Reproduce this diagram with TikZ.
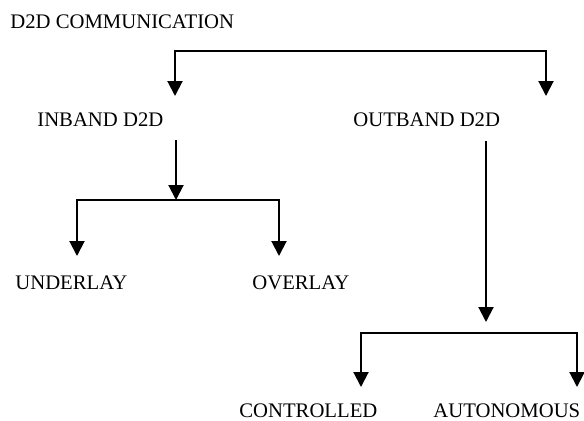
\documentclass[tikz,border=0pt]{standalone}
\usepackage{fontspec}
\setmainfont{Liberation Serif}
\usetikzlibrary{arrows.meta}
\tikzset{
  term/.style={anchor=base west,inner sep=0pt,font=\fontsize{10.35}{12}\selectfont},
  flow/.style={-{Triangle[length=7.5pt,width=7.5pt]},line width=1pt},
  fork/.style={{Triangle[length=7.5pt,width=7.5pt]}-{Triangle[length=7.5pt,width=7.5pt]},line width=1pt}
}
\begin{document}
\begin{tikzpicture}[x=0.5pt,y=-0.5pt]
  \useasboundingbox (0,0) rectangle (584,420);
  \node[term] (root) at (10,28) {D2D COMMUNICATION};
  \node[term] (inband) at (37,126) {INBAND D2D};
  \node[term] (outband) at (353,126) {OUTBAND D2D};
  \node[term] (underlay) at (15,289) {UNDERLAY};
  \node[term] (overlay) at (252,289) {OVERLAY};
  \node[term] (controlled) at (239,417) {CONTROLLED};
  \node[term] (autonomous) at (433,417) {AUTONOMOUS};
  % branch points and arrow ends
  \coordinate (rootfork) at (360,51);
  \coordinate (inbandtip) at (175,96);
  \coordinate (outbandtip) at (546,96);
  \coordinate (inbandstem) at (176,140);
  \coordinate (infork) at (176,200);
  \coordinate (underlaytip) at (77,256);
  \coordinate (overlaytip) at (279,256);
  \coordinate (outbandstem) at (486,141);
  \coordinate (outbandend) at (486,322);
  \coordinate (outfork) at (469,333);
  \coordinate (controlledtip) at (361,387);
  \coordinate (autonomoustip) at (577,387);
  \draw[fork] (inbandtip) |- (rootfork) -| (outbandtip);
  \draw[flow] (inbandstem) -- (infork);
  \draw[fork] (underlaytip) |- (infork) -| (overlaytip);
  \draw[flow] (outbandstem) -- (outbandend);
  \draw[fork] (controlledtip) |- (outfork) -| (autonomoustip);
\end{tikzpicture}
\end{document}
